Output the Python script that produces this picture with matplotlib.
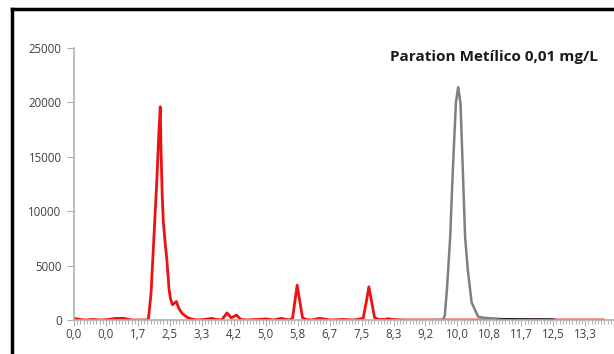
import matplotlib.pyplot as plt
from matplotlib.lines import Line2D

# 크로마토그램 데이터 (시간 min, 강도)
red_t = [0.0, 0.15, 0.3, 0.5, 0.7, 0.9, 1.1, 1.3, 1.5, 1.7, 1.9, 1.94, 2.01, 2.09, 2.16, 2.21, 2.25, 2.27,
         2.30, 2.33, 2.38, 2.42, 2.48, 2.52, 2.57, 2.62, 2.67, 2.73, 2.82, 2.95, 3.05, 3.2, 3.4, 3.6, 3.7,
         3.85, 3.99, 4.1, 4.24, 4.35, 4.5, 4.8, 5.0, 5.2, 5.4, 5.6, 5.70, 5.76, 5.82, 5.88, 5.96, 6.05, 6.2,
         6.4, 6.5, 6.7, 7.0, 7.3, 7.54, 7.62, 7.69, 7.76, 7.84, 7.95, 8.1, 8.2, 8.3, 8.6, 9.0, 9.2, 9.6,
         10.0, 11.0, 12.0, 12.5, 13.0, 13.8]
red_y = [150, 50, 0, 50, 0, 50, 150, 150, 0, 0, 0, 50, 2500, 8000, 12800, 17000, 19600, 15600,
         11500, 9000, 7000, 5600, 2800, 1900, 1400, 1550, 1700, 1100, 600, 250, 100, 0, 50, 150, 50,
         0, 650, 200, 450, 50, 0, 50, 100, 0, 150, 0, 150, 1700, 3200, 1900, 200, 50, 0,
         150, 100, 0, 50, 0, 150, 1600, 3050, 1700, 200, 50, 50, 120, 50, 0, 0, 0, 0,
         0, 0, 0, 0, 0, 0]

gray_t = [9.3, 9.62, 9.67, 9.73, 9.81, 9.88, 9.96, 10.02, 10.08, 10.14, 10.2, 10.27, 10.37, 10.54,
          10.7, 10.9, 11.1, 11.4, 11.5]
gray_y = [0, 0, 400, 3000, 7600, 13800, 20000, 21400, 19900, 13800, 7600, 4600, 1600, 300,
          200, 150, 100, 50, 0]

black_t = [11.0, 11.3, 11.7, 12.0, 12.3, 12.5, 12.55]
black_y = [0, 80, 60, 60, 60, 50, 0]

tick_labels = ['0,0', '0,0', '1,7', '2,5', '3,3', '4,2', '5,0', '5,8', '6,7', '7,5', '8,3',
               '9,2', '10,0', '10,8', '11,7', '12,5', '13,3']
y_ticks = [0, 5000, 10000, 15000, 20000, 25000]

step = 0.8333
fig = plt.figure(figsize=(6.14, 3.54), dpi=100)
ax = fig.add_axes([74 / 614, 1 - 320 / 354, 1 - 74 / 614, 272 / 354])

ax.plot(red_t, red_y, color='#ee1111', lw=2.0)
ax.plot(gray_t, gray_y, color='#7f7f7f', lw=1.8)
ax.plot(black_t, black_y, color='#111111', lw=1.6)

ax.set_xlim(0, 540 / 32.6 * step)
ax.set_ylim(0, 25000)

# 축 설정
for s in ['top', 'right']:
    ax.spines[s].set_visible(False)
for s in ['left', 'bottom']:
    ax.spines[s].set_color('#b0b0b0')
    ax.spines[s].set_linewidth(1.2)

ax.set_yticks(y_ticks)
ax.set_yticklabels([str(v) for v in y_ticks])
ax.set_xticks([i * step for i in range(len(tick_labels))])
ax.set_xticklabels(tick_labels)
ax.set_xticks([i * step / 10 for i in range(0, 170)], minor=True)
ax.tick_params(axis='y', length=5, color='#b0b0b0', labelsize=8.3, labelcolor='#404040', pad=4)
ax.tick_params(axis='x', which='major', length=4, color='#b0b0b0', labelsize=8.3,
               labelcolor='#404040', pad=2)
ax.tick_params(axis='x', which='minor', length=3, color='#b0b0b0', width=0.8)
for lab in ax.get_xticklabels() + ax.get_yticklabels():
    lab.set_family('Open Sans')

fig.text(494 / 614, 1 - 57 / 354, 'Paration Metílico 0,01 mg/L', ha='center', va='center',
         fontsize=11, fontweight='bold', family='Open Sans', color='#1a1a1a')

# 차트 테두리 (위, 왼쪽)
fig.add_artist(Line2D([12 / 614, 613 / 614], [1 - 9 / 354, 1 - 9 / 354], color='black', lw=2.5,
                      transform=fig.transFigure))
fig.add_artist(Line2D([12 / 614, 12 / 614], [0, 1 - 9 / 354], color='black', lw=2.5,
                      transform=fig.transFigure))

fig.savefig('out.png', dpi=100)
